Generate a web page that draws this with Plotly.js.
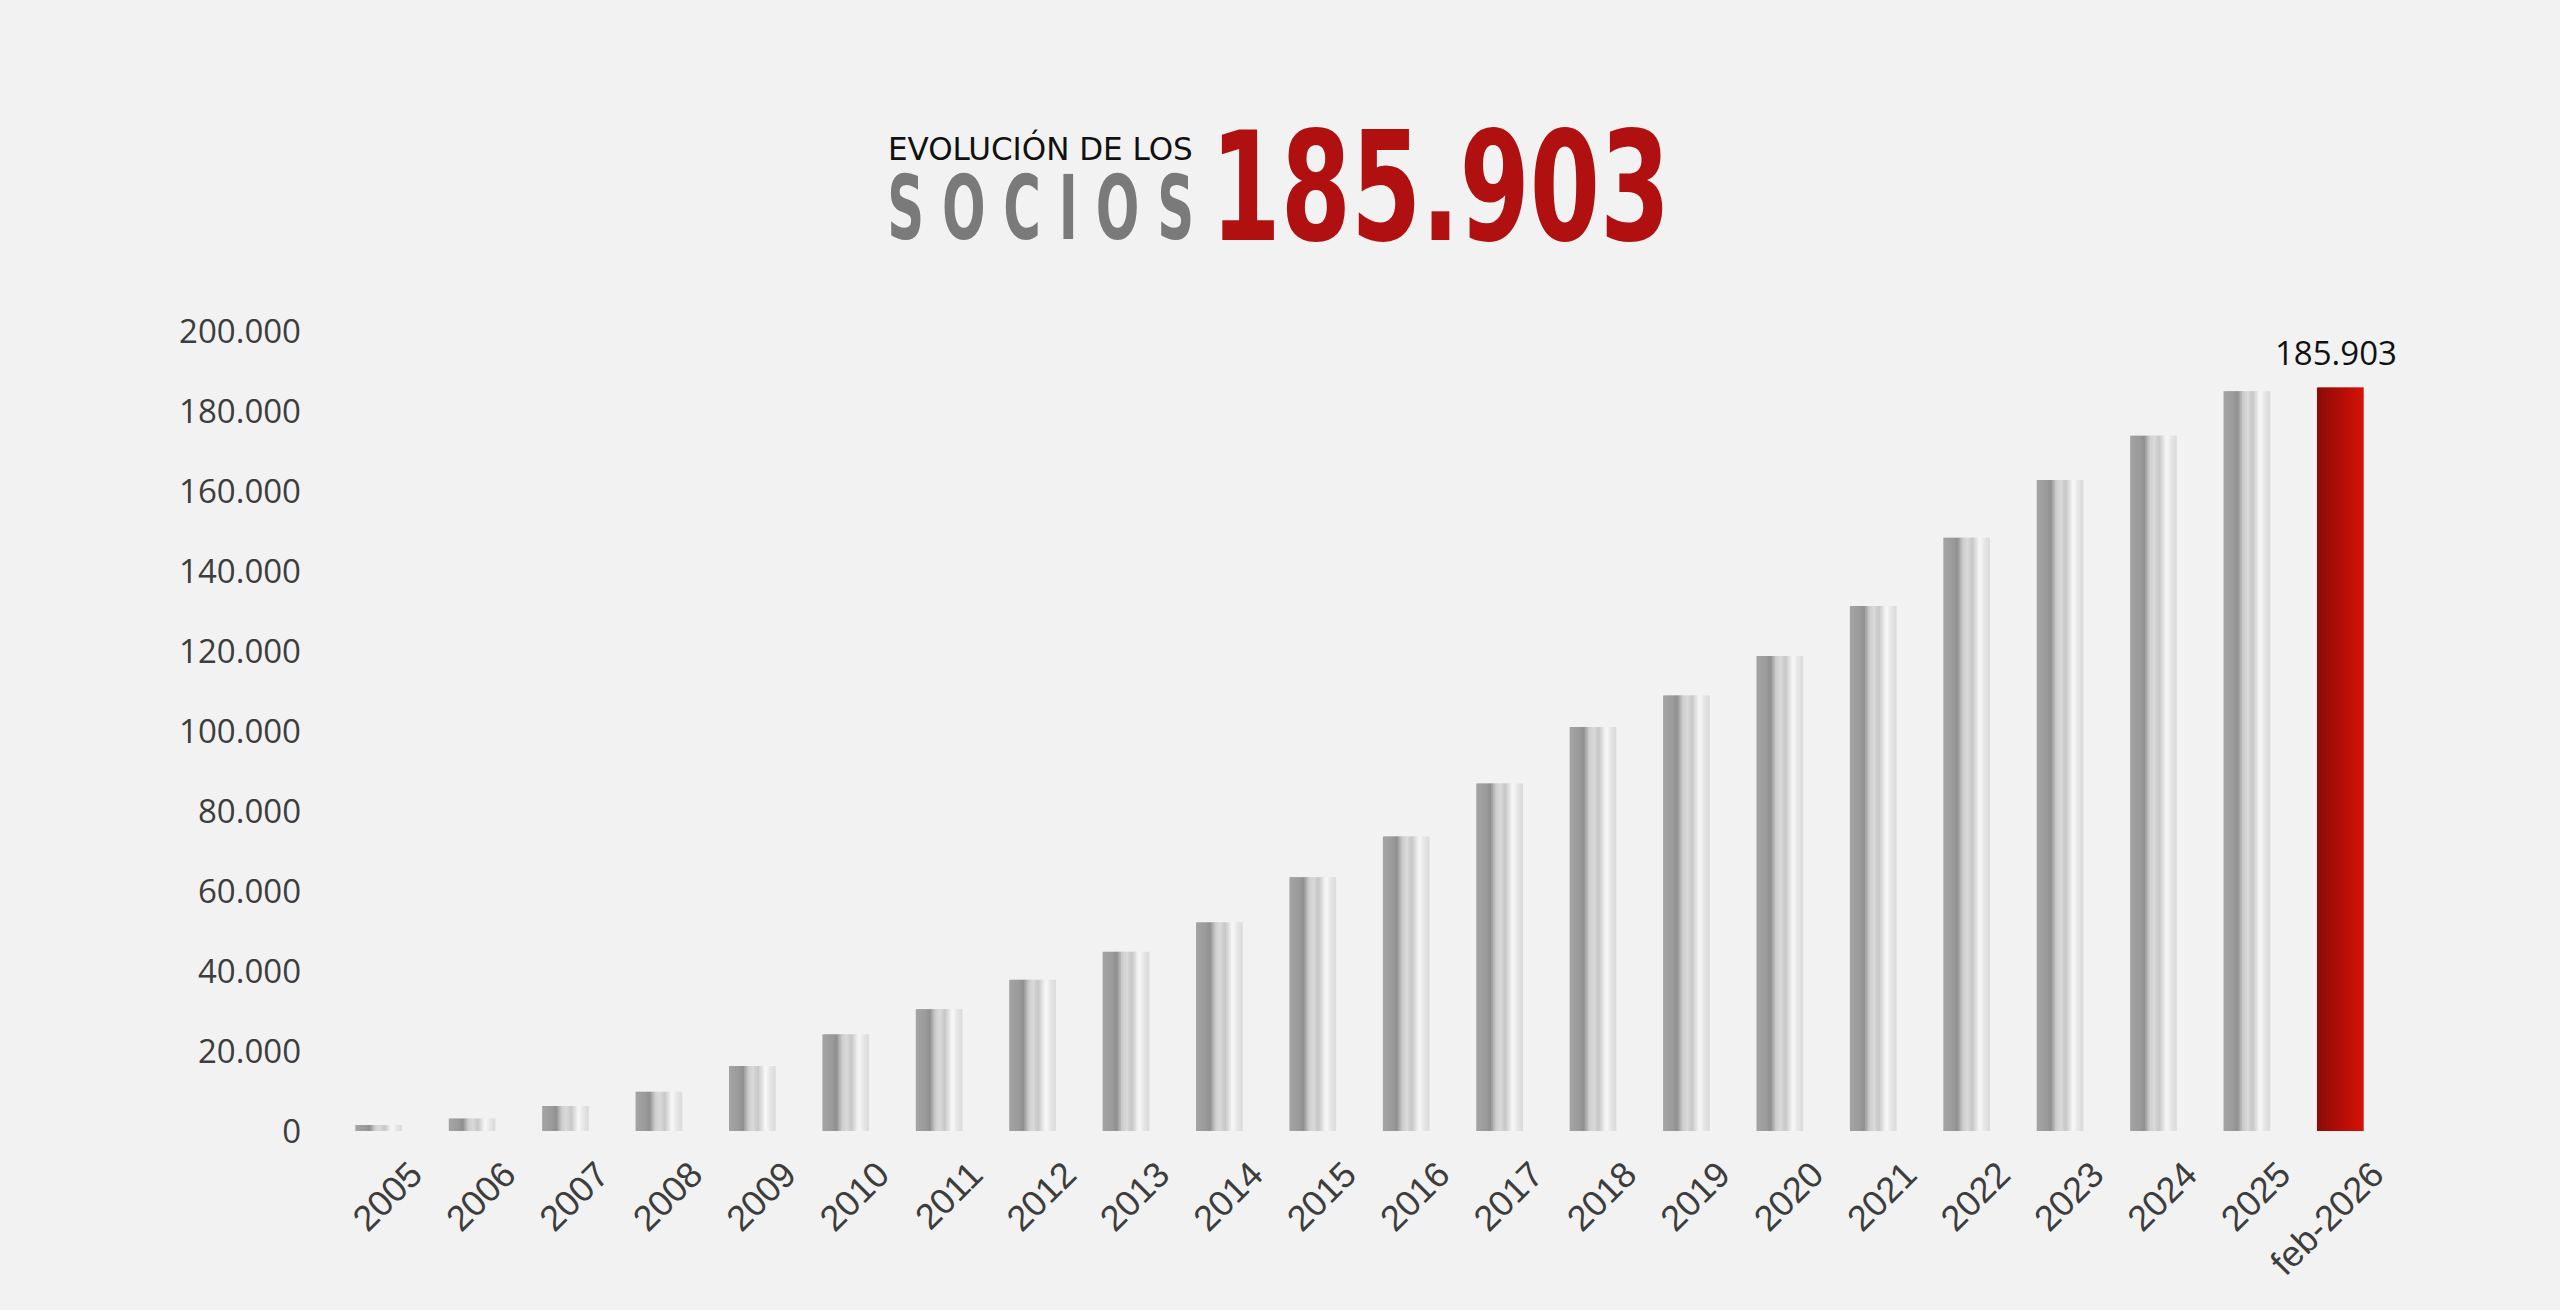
<!DOCTYPE html>
<html>
<head>
<meta charset="utf-8">
<script src="https://cdn.plot.ly/plotly-3.0.1.min.js"></script>
<style>
  html, body { margin: 0; padding: 0; background: #f2f2f2; }
  #chart { width: 2560px; height: 1310px; }
</style>
</head>
<body>
<div id="chart"></div>
<script>
// socios por año
var categories = ['2005','2006','2007','2008','2009','2010','2011','2012','2013','2014',
  '2015','2016','2017','2018','2019','2020','2021','2022','2023','2024','2025','feb-2026'];
var socios = [1500, 3100, 6250, 9800, 16250, 24150, 30450, 37800, 44800, 52150,
  63450, 73650, 86900, 101000, 108900, 118750, 131250, 148300, 162750, 173800, 184950, 185903];
var yTicks = [0, 20000, 40000, 60000, 80000, 100000, 120000, 140000, 160000, 180000, 200000];
var totalLabel = '185.903';

// cylinder-like shading, done by slicing each bar into thin overlaid bars
var grayStops = [[0, [164,164,164]], [0.22, [154,154,154]], [0.30, [143,143,143]],
  [0.42, [206,206,206]], [0.52, [218,218,218]], [0.62, [198,198,198]],
  [0.78, [249,249,249]], [0.88, [230,230,230]], [1, [218,218,218]]];
var redStops = [[0, [136,12,8]], [0.5, [178,14,8]], [1, [214,18,8]]];

function shade(stops, t) {
  for (var i = 1; i < stops.length; i++) {
    if (t <= stops[i][0]) {
      var a = stops[i-1], b = stops[i];
      var f = (t - a[0]) / (b[0] - a[0]);
      var c = a[1].map(function(v, j) { return Math.round(v + (b[1][j] - v) * f); });
      return 'rgb(' + c.join(',') + ')';
    }
  }
  var l = stops[stops.length-1][1];
  return 'rgb(' + l.join(',') + ')';
}

var barW = 0.5;
var nSlices = 28;
var sw = barW / nSlices;
var traces = [];
for (var k = 0; k < nSlices; k++) {
  var t = (k + 0.5) / nSlices;
  var start = -barW / 2 + k * sw;
  var w = Math.min(sw * 1.7, barW / 2 - start);
  var colors = categories.map(function(c, i) {
    return i === categories.length - 1 ? shade(redStops, t) : shade(grayStops, t);
  });
  traces.push({
    type: 'bar',
    x: categories,
    y: socios,
    offset: start,
    width: w,
    marker: { color: colors, line: { width: 0 } },
    opacity: 1,
    hoverinfo: 'skip',
    showlegend: false
  });
}

var L = 332, R = 2387, B = 1131, T = 331;
function px(x) { return (x - L) / (R - L); }
function py(y) { return (B - y) / (B - T); }

// title pieces: [text, centre x, cap middle y, font size, colour, weight, squeezed width]
var titleParts = [
  ['EVOLUCIÓN DE LOS', 1040, 149, 32, '#111111', 400, 305],
  ['S O C I O S', 1040, 208, 89, '#7a7a7a', 700, 307],
  ['185.903', 1440, 188, 151, '#b01010', 700, 460]
];

var annotations = [{
  x: categories[categories.length - 1], y: socios[socios.length - 1],
  xref: 'x', yref: 'y', text: totalLabel, showarrow: false,
  xanchor: 'center', yanchor: 'middle', yshift: 35, xshift: -4,
  font: { family: 'Open Sans, sans-serif', size: 33, color: '#111111' }
}];
titleParts.forEach(function(p) {
  annotations.push({
    x: px(p[1]), y: py(p[2]), xref: 'paper', yref: 'paper',
    text: p[0], showarrow: false, xanchor: 'center', yanchor: 'middle', borderpad: 0,
    font: { family: 'DejaVu Sans Condensed, sans-serif', size: p[3], color: p[4], weight: p[5] }
  });
});

var layout = {
  width: 2560,
  height: 1310,
  paper_bgcolor: '#f2f2f2',
  plot_bgcolor: '#f2f2f2',
  separators: ',.',
  barmode: 'overlay',
  margin: { l: L, r: 2560 - R, t: T, b: 1310 - B, pad: 0, autoexpand: false },
  showlegend: false,
  xaxis: {
    type: 'category',
    range: [-0.5, categories.length - 0.5],
    automargin: false,
    tickangle: -45,
    showgrid: false,
    zeroline: false,
    showline: false,
    ticks: '',
    ticklabelshift: 33,
    ticklabelstandoff: 14,
    tickfont: { family: 'Liberation Sans, Arial, sans-serif', size: 36, color: '#3d3d3d' }
  },
  yaxis: {
    automargin: false,
    range: [0, 200000],
    tickvals: yTicks,
    tickformat: ',d',
    showgrid: false,
    zeroline: false,
    showline: false,
    ticks: '',
    ticklabelstandoff: 30,
    tickfont: { family: 'Open Sans, sans-serif', size: 33, color: '#3d3d3d' }
  },
  annotations: annotations
};

Plotly.newPlot('chart', traces, layout, { displayModeBar: false, staticPlot: true }).then(function(gd) {
  // condensed headline look: squeeze the title texts horizontally around their centre
  titleParts.forEach(function(p, i) {
    var txt = gd.querySelector('g.annotation[data-index="' + (i + 1) + '"] text.annotation-text');
    if (!txt) return;
    var bb = txt.getBBox();
    var sx = p[6] / bb.width;
    var cx = bb.x + bb.width / 2;
    txt.setAttribute('transform',
      'translate(' + cx + ' 0) scale(' + sx + ' 1) translate(' + (-cx) + ' 0)');
  });
});
</script>
</body>
</html>
